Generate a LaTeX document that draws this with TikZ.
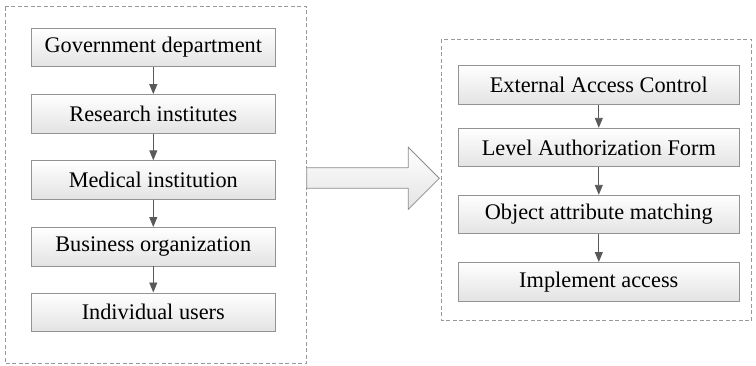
\documentclass[tikz,border=0pt]{standalone}
\usepackage{fontspec}
\setmainfont{Liberation Serif}
\usetikzlibrary{arrows.meta}

\tikzset{
  stage/.style={draw=gray!85, line width=0.9pt, top color=white, bottom color=gray!22,
    minimum height=38.5pt, inner sep=0pt, font=\fontsize{22.3}{26}\selectfont},
  flow/.style={draw=black!65, line width=0.9pt, -{Triangle[length=10pt,width=8pt]}},
  frame/.style={draw=gray!80, line width=0.9pt, dash pattern=on 4pt off 2.5pt}
}

\begin{document}
\begin{tikzpicture}[x=1pt,y=-1pt]
    \useasboundingbox (0,0) rectangle (756,365);
    % dashed frames
    \draw [frame] (5,6.7) rectangle (306.7,363.3);
    \draw [frame] (441.7,39.3) rectangle (751.7,320.7);
    % left column
    \foreach \i/\y/\t in {1/47.5/Government department,2/113.8/Research institutes,3/180/Medical institution,4/246.7/Business organization,5/312.2/Individual users}{
      \node [stage, minimum width=243.3pt] (l\i) at (153.3,\y) {\t};
    }
    \foreach \i/\j in {1/2,2/3,3/4,4/5}{
      \draw [flow] (l\i) -- (l\j);
    }
    % right column
    \foreach \i/\y/\t in {1/85/External Access Control,2/147.5/Level Authorization Form,3/214.5/Object attribute matching,4/281.7/Implement access}{
      \node [stage, minimum width=281pt] (r\i) at (598.8,\y) {\t};
    }
    \foreach \i/\j in {1/2,2/3,3/4}{
      \draw [flow] (r\i) -- (r\j);
    }
    % big arrow
    \draw [draw=gray!90, line width=0.8pt, top color=white, bottom color=gray!22]
      (306.7,167.7) -- (408.3,167.7) -- (408.3,147.3) -- (439.3,178.3)
      -- (408.3,209.3) -- (408.3,188.3) -- (306.7,188.3) -- cycle;
\end{tikzpicture}
\end{document}
